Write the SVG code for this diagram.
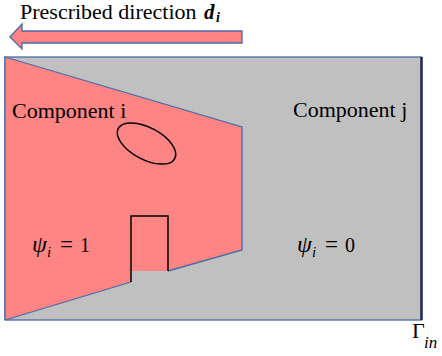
<svg xmlns="http://www.w3.org/2000/svg" width="442" height="356" viewBox="0 0 442 356">
<style>
.t{font-family:"Liberation Serif","Times New Roman",serif;font-size:22px;fill:#000}
.m{font-family:"Liberation Serif","Times New Roman",serif;font-style:italic;fill:#000}
.n{font-family:"Liberation Serif","Times New Roman",serif;fill:#000}
.edge{fill:none;stroke:#4a6aa8;stroke-width:1.3}
.blk{fill:none;stroke:#000;stroke-width:1.5}
</style>
<rect width="442" height="356" fill="#fff"/>
<g id="title">
<text class="t" x="20" y="19" font-size="20">Prescribed direction</text>
<text class="m" x="204" y="19" font-size="21" font-weight="bold">d</text>
<text class="m" x="216" y="22" font-size="14" font-weight="bold">i</text>
</g>
<g id="arrow">
<polygon points="10,37 22,24 22,31 242,31 242,43 22,43 22,49" fill="#ff8383" stroke="#4a6aa8" stroke-width="1.3"/>
</g>
<g id="component-j">
<rect x="5" y="57" width="416.5" height="263" fill="#c0c0c0" stroke="#4a6aa8" stroke-width="1.3"/>
<line x1="421.5" y1="57" x2="421.5" y2="320" stroke="#1c2a4e" stroke-width="2.5"/>
<text class="t" x="293" y="117">Component j</text>
<text class="m" x="297" y="252" font-size="24">ψ</text>
<text class="m" x="312" y="257" font-size="15">i</text>
<text class="n" x="325" y="252" font-size="23">=</text>
<text class="n" x="345" y="252" font-size="20">0</text>
</g>
<g id="component-i">
<polygon points="5,57 242,127 242,250 168,271 131,271 131,282 5,320" fill="#ff8585"/>
<polyline class="edge" points="5,320 5,57 242,127 242,250 168,271"/>
<line class="edge" x1="131" y1="282" x2="5" y2="320"/>
<polyline class="blk" points="131,282 131,216 168,216 168,271"/>
<ellipse cx="146.5" cy="143.5" rx="32" ry="16" transform="rotate(28 146.5 143.5)" fill="none" stroke="#000" stroke-width="1.5"/>
<text class="t" x="12" y="118">Component i</text>
<text class="m" x="32" y="252" font-size="24">ψ</text>
<text class="m" x="47" y="257" font-size="15">i</text>
<text class="n" x="60" y="252" font-size="23">=</text>
<text class="n" x="80" y="252" font-size="20">1</text>
</g>
<g id="gamma-in">
<text class="n" x="412" y="338" font-size="22">Γ</text>
<text class="m" x="424" y="348" font-size="17">in</text>
</g>
</svg>
